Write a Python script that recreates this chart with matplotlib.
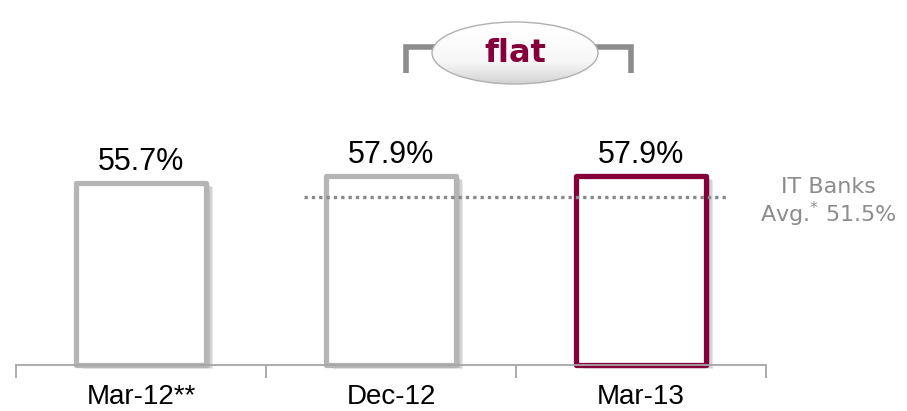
import numpy as np
import matplotlib
matplotlib.use("Agg")
import matplotlib.pyplot as plt
import matplotlib.patheffects as pe
from matplotlib.patches import Ellipse

categories = ["Mar-12**", "Dec-12", "Mar-13"]
values = [55.7, 57.9, 57.9]
value_labels = ["55.7%", "57.9%", "57.9%"]
avg_value = 51.5
avg_label = "IT Banks\nAvg.$^{*}$ 51.5%"
badge_text = "flat"

GRAY = "#b5b5b5"
RED = "#85003a"
TXT_GRAY = "#8c8c8c"

plt.rcParams["font.family"] = ["Liberation Sans", "DejaVu Sans"]
plt.rcParams["mathtext.fontset"] = "dejavusans"

fig = plt.figure(figsize=(9.07, 4.11), dpi=100)
W, H = 907, 411

# main axes: x from 16px to 766px, baseline at y=365px
ax = fig.add_axes([16 / W, (H - 365) / H, 750 / W, 365 / H])
ax.set_xlim(-0.5, 2.5)
ax.set_ylim(0, 365 / 3.27)

x = np.arange(len(categories))
edge_colors = [GRAY, GRAY, RED]
bars = ax.bar(x, values, width=0.52, facecolor="white", edgecolor=edge_colors,
              linewidth=3.8, joinstyle="round", zorder=3, clip_on=False)
shadow = [pe.SimplePatchShadow(offset=(o, -o * 0.6), shadow_rgbFace="#707070", alpha=0.16)
          for o in (5, 4, 3, 2)]
for b in bars:
    b.set_path_effects(shadow + [pe.Normal()])

for xi, v, lab in zip(x, values, value_labels):
    ax.annotate(lab, (xi, v), xytext=(0, 4), textcoords="offset points",
                ha="center", va="bottom", fontsize=22, color="black")

# average line
ax.hlines(avg_value, 0.65, 2.34, colors="#8a8a8a", linestyles=(0, (1, 1.2)),
          linewidth=2.4, zorder=4)
ax.text(2.75, avg_value - 2.0, avg_label, ha="center", va="center", multialignment="center",
        fontsize=16, color=TXT_GRAY, family=["DejaVu Sans"], linespacing=1.15, clip_on=False)

# axis styling
for s in ["top", "right", "left"]:
    ax.spines[s].set_visible(False)
ax.spines["bottom"].set_color("#a6a6a6")
ax.spines["bottom"].set_linewidth(1.3)
ax.spines["bottom"].set_zorder(5)
ax.set_yticks([])
ax.set_xticks(x, categories, fontsize=20, family=["Liberation Sans Narrow", "Liberation Sans"])
ax.tick_params(axis="x", which="major", length=0, pad=14)
ax.set_xticks([-0.5, 0.5, 1.5, 2.5], minor=True)
ax.tick_params(axis="x", which="minor", length=9, width=1.3, color="#a6a6a6", direction="out")

# overlay for the "flat" badge (pixel coordinates)
ov = fig.add_axes([0, 0, 1, 1])
ov.set_xlim(0, W)
ov.set_ylim(H, 0)
ov.axis("off")

bracket_kw = dict(color="#8c8c8c", linewidth=4, solid_capstyle="butt", solid_joinstyle="miter")
ov.plot([406, 406, 440], [73, 47, 47], **bracket_kw)
ov.plot([592, 631, 631], [47, 47, 73], **bracket_kw)

cx, cy, ew, eh = 515, 53, 166, 62
ell = Ellipse((cx, cy), ew, eh, facecolor="none", edgecolor="#b0b0b0", linewidth=1.0, zorder=5)
ov.add_patch(ell)
grad = np.linspace(0, 1, 100).reshape(-1, 1)
grad = np.power(grad, 1.6)
img = ov.imshow(grad, cmap=matplotlib.colors.LinearSegmentedColormap.from_list(
    "g", ["#ffffff", "#f6f6f6", "#d2d2d2"]),
    extent=[cx - ew / 2, cx + ew / 2, cy + eh / 2, cy - eh / 2], aspect="auto", zorder=4)
img.set_clip_path(ell)
ov.set_xlim(0, W)
ov.set_ylim(H, 0)
ov.text(cx, cy + 1, badge_text, ha="center", va="center", fontsize=23, fontweight="bold",
        color=RED, family=["DejaVu Sans"], zorder=6)

fig.savefig("out.png", dpi=100)
